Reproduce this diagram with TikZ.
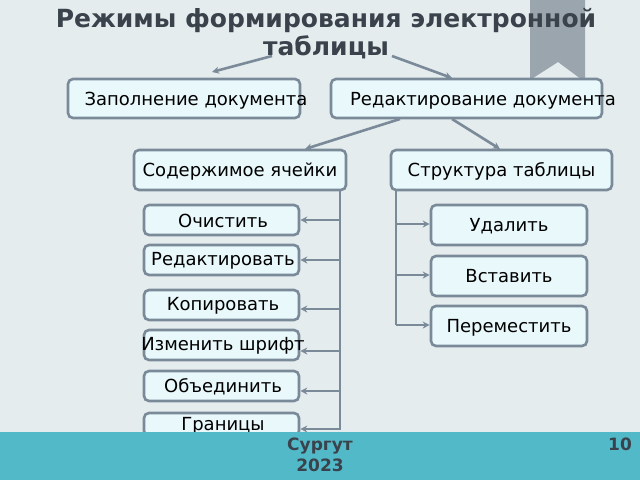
\documentclass[tikz,border=0pt]{standalone}
\usepackage{fontspec}
\setmainfont{DejaVu Sans}
\usetikzlibrary{arrows.meta}
\definecolor{bg}{HTML}{E5ECEE}
\definecolor{bx}{HTML}{E9F8FB}
\definecolor{ln}{HTML}{7A8A99}
\definecolor{tt}{HTML}{3A434C}
\definecolor{ft}{HTML}{52B9C9}
\definecolor{bm}{HTML}{9AA5AD}
\begin{document}
\begin{tikzpicture}[x=1pt,y=-1pt,
  lab/.style={font=\fontsize{18}{20}\selectfont},
  box/.style={draw=ln,line width=2.6pt,fill=bx,rounded corners=5pt,inner sep=0pt,lab},
  con/.style={draw=ln,line width=2.6pt,-{Stealth[length=7pt,width=7pt]}},
  ln2/.style={draw=ln,line width=2.6pt}]
\fill[bg] (0,0) rectangle (640,480);
\useasboundingbox (0,0) rectangle (640,480);
\fill[bm] (530,0) -- (585,0) -- (585,82) -- (558,62) -- (530,80) -- cycle;
\node[font=\bfseries\fontsize{25}{28}\selectfont,text=tt,align=center] (t) at (326,34) {Режимы формирования электронной\\таблицы};
\coordinate (t1) at (272,56); \coordinate (t2) at (392,56);
\node[box,minimum width=232pt,minimum height=39pt] (a) at (184,98.5) {};
\node[lab] at (196,101) {Заполнение документа};
\node[box,minimum width=271pt,minimum height=39pt] (b) at (466.5,98.5) {};
\node[lab] at (483,101) {Редактирование документа};
\draw[con] (t1) -- (212,72);
\draw[con] (t2) -- (452,78);
\node[box,minimum width=212pt,minimum height=40pt,text depth=-2pt] (c) at (240,170) {Содержимое ячейки};
\node[box,minimum width=221pt,minimum height=40pt,text depth=-2pt] (d) at (501.5,170) {Структура таблицы};
\coordinate (b1) at (400,119); \coordinate (b2) at (452,119);
\draw[con] (b1) -- (305,149);
\draw[con] (b2) -- (500,149);
\foreach \n/\y/\h/\t in {l1/220/30/Очистить, l2/260/30/Редактировать, l3/305/30/Копировать, l4/345/30/Изменить шрифт, l5/386/30/Объединить, l6/424.5/23/Границы}{
  \node[box,minimum width=155pt,minimum height=\h pt] (\n) at (221.5,\y) {};
  \node[lab] at (223,\y+1) {\t};
}
\foreach \n/\y/\t in {r1/225/Удалить, r2/276/Вставить, r3/326/Переместить}
  \node[box,minimum width=156pt,minimum height=40pt,text depth=-2pt] (\n) at (509,\y) {\t};
\draw[ln2] (340,190) -- (340,430);
\draw[ln2] (396,190) -- (396,325);
\foreach \n/\y in {l1/220,l2/260,l3/309,l4/351,l5/391,l6/429}
  \draw[con] (340,\y) -- (\n.east |- 0,\y);
\foreach \n/\y in {r1/224,r2/275,r3/325}
  \draw[con] (396,\y) -- (\n.west |- 0,\y);
\fill[ft] (0,432) rectangle (640,480);
\node[font=\bfseries\fontsize{17}{21}\selectfont,text=tt,align=center] (f) at (320,455) {Сургут\\2023};
\node[font=\bfseries\fontsize{17}{20}\selectfont,text=tt] (p) at (620,444) {10};
\end{tikzpicture}
\end{document}
